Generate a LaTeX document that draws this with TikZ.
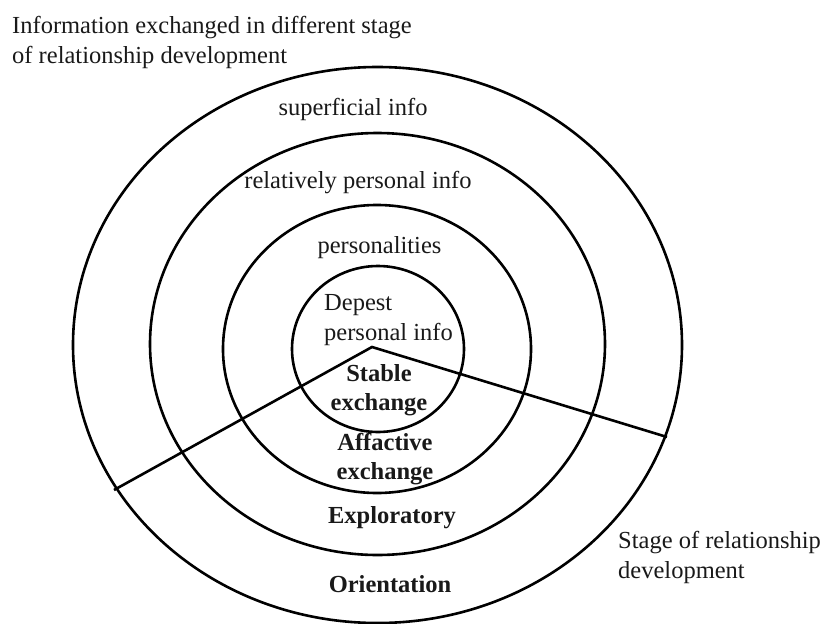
\documentclass[tikz,border=0pt]{standalone}
\usepackage{fontspec}
\setmainfont{Liberation Serif}
\begin{document}
\begin{tikzpicture}[x=1pt,y=-1pt,
  ring/.style={line width=2.6pt,draw=black},
  divider/.style={line width=2.6pt,draw=black},
  lbl/.style={font=\fontsize{24.5}{30}\selectfont,inner sep=0pt,text=black!90},
  stagelbl/.style={font=\fontsize{24.5}{29}\selectfont\bfseries,inner sep=0pt,align=center,text=black!90}]
\useasboundingbox (0,0) rectangle (825,624);
% rings
\draw[ring] (377.5,345) ellipse [x radius=304.5, y radius=278];
\draw[ring] (377.5,344) ellipse [x radius=227.5, y radius=211];
\draw[ring] (377,349) ellipse [x radius=154, y radius=144];
\draw[ring] (378,349) ellipse [x radius=86, y radius=83];
% dividers
\coordinate (apex) at (372,347);
\coordinate (leftend) at (114,490);
\coordinate (rightend) at (667,437);
\draw[divider,line join=miter] (leftend) -- (apex) -- (rightend);
% title
\node[lbl,anchor=base west,align=left] (title) at (12,63) {Information exchanged in different stage\\of relationship development};
% info labels
\node[lbl,anchor=base] (superficial) at (353,115) {superficial info};
\node[lbl,anchor=base] (relpers) at (358,188) {relatively personal info};
\node[lbl,anchor=base] (personalities) at (379.5,253) {personalities};
\node[lbl,anchor=base west,align=left] (deepest) at (324,340) {Depest\\personal info};
% stage labels
\node[stagelbl,anchor=base] (stable) at (379,410) {Stable\\exchange};
\node[stagelbl,anchor=base] (affective) at (385,479) {Affactive\\exchange};
\node[stagelbl,anchor=base] (exploratory) at (392,523) {Exploratory};
\node[stagelbl,anchor=base] (orientation) at (390,592) {Orientation};
% stage caption
\node[lbl,anchor=base west,align=left] (stagecap) at (618,578) {Stage of relationship\\development};
\end{tikzpicture}
\end{document}
